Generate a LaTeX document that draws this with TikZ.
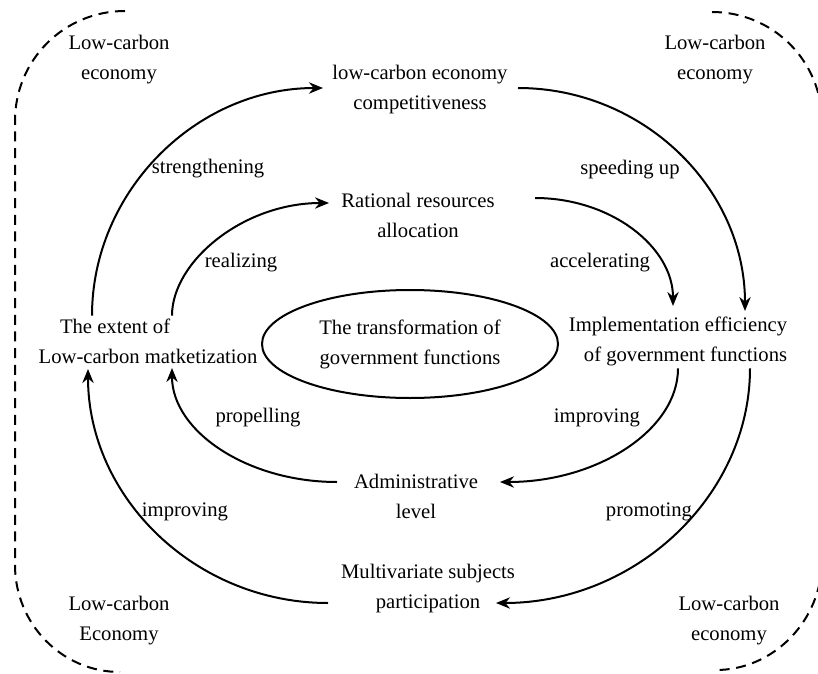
\documentclass[tikz,border=0pt]{standalone}
\usepackage{fontspec}
\setmainfont{Liberation Serif}
\usetikzlibrary{arrows.meta,shapes.geometric}
\begin{document}
\begin{tikzpicture}[x=0.75pt,y=-0.75pt,
  lbl/.style={font=\fontsize{15.5}{22.5}\selectfont, align=center, inner sep=2pt},
  flow/.style={line width=1.5pt, -{Stealth[length=10.5pt,width=8.5pt]}},
  border/.style={line width=1.5pt, dash pattern=on 7.5pt off 5pt}]
\useasboundingbox (0,0) rectangle (818,674);
\clip (0,0) rectangle (818,674);
% dashed frame
\draw[border] (125,11) .. controls (64,11) and (15,60) .. (15,121) -- (15,565)
  .. controls (15,624) and (62,672) .. (120,672);
\draw[border] (712,12) .. controls (773,12) and (822,61) .. (822,122) -- (822,560)
  .. controls (822,621) and (773,670) .. (716,670);
% corner labels
\node[lbl] (lc1) at (119,60) {Low-carbon\\economy};
\node[lbl] (lc2) at (715,60) {Low-carbon\\economy};
\node[lbl] (lc3) at (119,621) {Low-carbon\\Economy};
\node[lbl] (lc4) at (729,621) {Low-carbon\\economy};
% main nodes
\node[lbl] (comp) at (420,90) {low-carbon economy\\competitiveness};
\node[lbl] (rat) at (418,215) {Rational resources\\allocation};
\node[lbl, align=left] (ext) at (148,341) {\hspace{16pt}The extent of\\Low-carbon matketization};
\node[lbl, align=right] (impl) at (678,341) {Implementation efficiency\\of government functions};
\node[lbl, ellipse, draw, line width=1.5pt, minimum width=222pt, minimum height=81pt] (ell) at (410,344) {The transformation of\\government functions};
\node[lbl] (adm) at (416,496) {Administrative\\level};
\node[lbl] (mult) at (428,589) {Multivariate subjects\\participation};
% edge labels
\node[lbl] (l1) at (208,169) {strengthening};
\node[lbl] (l2) at (630,170) {speeding up};
\node[lbl] (l3) at (241,263) {realizing};
\node[lbl] (l4) at (600,263) {accelerating};
\node[lbl] (l5) at (258,418) {propelling};
\node[lbl] (l6) at (597,418) {improving};
\node[lbl] (l7) at (185,512) {improving};
\node[lbl] (l8) at (649,512) {promoting};
% connector ends next to the nodes
\coordinate (s2) at (518,88);
\coordinate (s4) at (328,603);
\coordinate (s6) at (535,198);
\coordinate (s8) at (337,482);
\coordinate (e1) at (323,88);
\coordinate (e2) at (745,311);
\coordinate (e3) at (496,603);
\coordinate (e4) at (88,369);
\coordinate (e5) at (329,203);
\coordinate (e6) at (673,306);
\coordinate (e7) at (500,482);
\coordinate (e8) at (172,368);
% outer cycle
\draw[flow] (ext.north -| 92,0) .. controls +(0,-124) and +(-127,0) .. (e1);
\draw[flow] (s2) .. controls +(125,0) and +(0,-123) .. (e2);
\draw[flow] (impl.south -| 750,0) .. controls +(0,127) and +(140,0) .. (e3);
\draw[flow] (s4) .. controls +(-132,0) and +(0,129) .. (e4);
% inner cycle
\draw[flow] (ext.north -| 172,0) .. controls +(0,-54) and +(-86,0) .. (e5);
\draw[flow] (s6) .. controls +(76,0) and +(0,-59) .. (e6);
\draw[flow] (impl.south -| 678,0) .. controls +(0,61) and +(98,0) .. (e7);
\draw[flow] (s8) .. controls +(-90,0) and +(0,63) .. (e8);
\end{tikzpicture}
\end{document}
